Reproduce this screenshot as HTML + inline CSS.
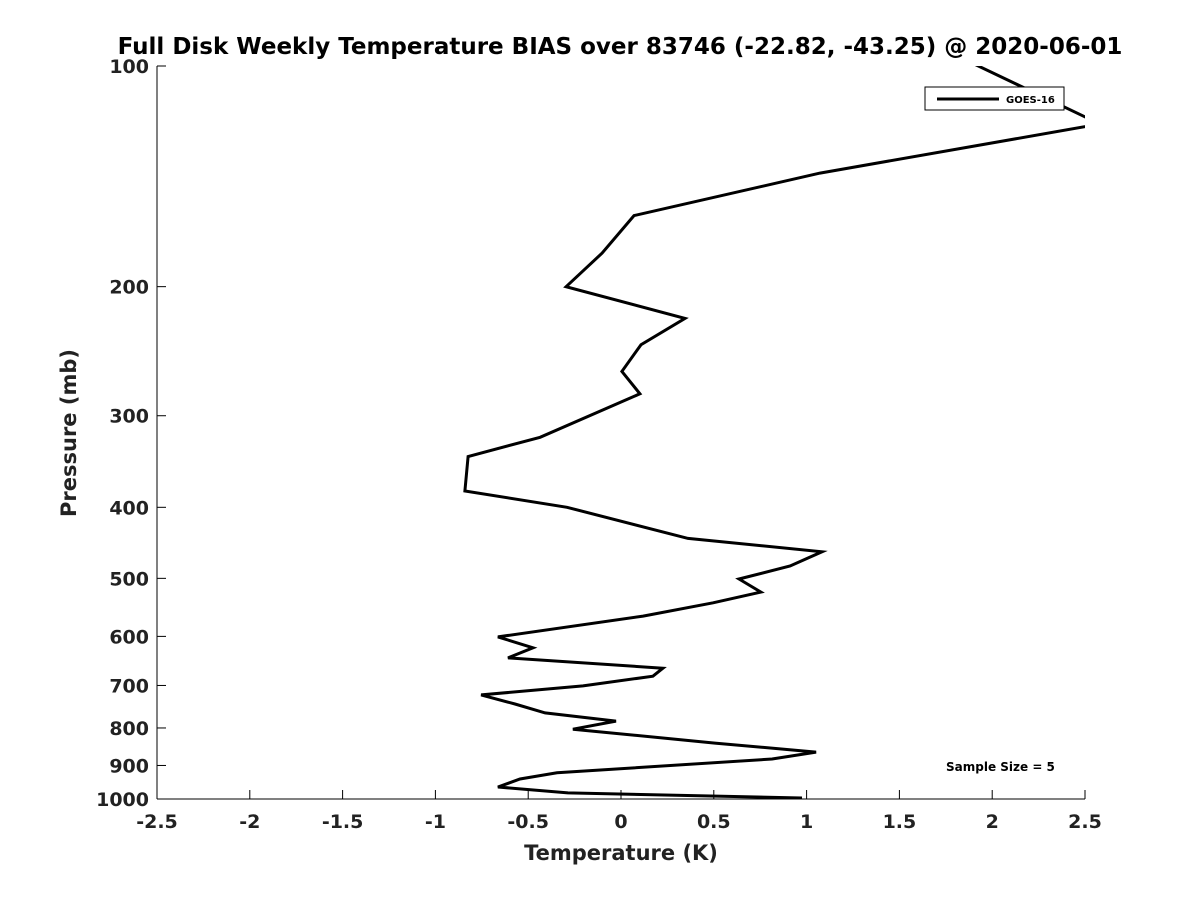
<!DOCTYPE html>
<html><head><meta charset="utf-8"><style>body{margin:0;background:#fff}svg{display:block;font-family:"DejaVu Sans","Liberation Sans",sans-serif}</style></head>
<body>
<svg id="c" width="1200" height="900"></svg>
<script>
const temps=[1.853,2.581,1.072,0.070,-0.102,-0.296,0.345,0.108,0.005,0.102,-0.436,-0.824,-0.841,-0.291,0.361,1.083,0.911,0.636,0.754,0.496,0.119,-0.663,-0.474,-0.609,0.226,0.172,-0.205,-0.754,-0.571,-0.409,-0.027,-0.259,0.506,1.051,0.814,-0.345,-0.544,-0.663,-0.286,0.975];
const pressures=[98,120,140,160,180,200,221,240,261,280,321,341,380,400,441,460,481,501,522,540,563,601,622,642,663,680,701,721,742,763,783,803,839,863,882,921,939,963,981,997];
const xTicks=[-2.5,-2,-1.5,-1,-0.5,0,0.5,1,1.5,2,2.5];
const xTickLabels=["-2.5","-2","-1.5","-1","-0.5","0","0.5","1","1.5","2","2.5"];
const yTicks=[100,200,300,400,500,600,700,800,900,1000];
const NS="http://www.w3.org/2000/svg",svg=document.getElementById('c');
const L=157,R=1085,T=66,B=799;
const xs=v=>L+(v+2.5)/5*(R-L);
const ys=p=>T+(Math.log10(p)-2)*(B-T);
function mk(t,a,txt){const e=document.createElementNS(NS,t);for(const k in a)e.setAttribute(k,a[k]);if(txt!==undefined)e.textContent=txt;svg.appendChild(e);return e;}
const defs=mk('defs',{});const cp=document.createElementNS(NS,'clipPath');cp.setAttribute('id','clip');const cr=document.createElementNS(NS,'rect');cr.setAttribute('x',L);cr.setAttribute('y',T);cr.setAttribute('width',R-L);cr.setAttribute('height',B-T);cp.appendChild(cr);defs.appendChild(cp);
let t=mk('text',{x:620,y:54,'text-anchor':'middle','font-size':23,'font-weight':'bold'},'Full Disk Weekly Temperature BIAS over 83746 (-22.82, -43.25) @ 2020-06-01');

let a=mk('line',{x1:L,y1:T,x2:L,y2:B,stroke:'#000','stroke-width':1});

a=mk('line',{x1:L,y1:B,x2:R,y2:B,stroke:'#000','stroke-width':1});

xTicks.forEach((v,i)=>{const x=xs(v);
 const tk=mk('line',{x1:x,y1:B,x2:x,y2:B-9,stroke:'#000'});
 
 const lb=mk('text',{x:x,y:B+29,'text-anchor':'middle','font-size':19,'font-weight':'bold',fill:'#222'},xTickLabels[i]);
 });
yTicks.forEach(p=>{const y=ys(p);
 const tk=mk('line',{x1:L,y1:y,x2:L+9,y2:y,stroke:'#000'});
 
 const lb=mk('text',{x:L-8,y:y+7,'text-anchor':'end','font-size':19,'font-weight':'bold',fill:'#222'},String(p));
 });
t=mk('text',{x:621,y:860,'text-anchor':'middle','font-size':21,'font-weight':'bold',fill:'#222'},'Temperature (K)');

t=mk('text',{x:0,y:0,transform:'translate(76,433) rotate(-90)','text-anchor':'middle','font-size':21,'font-weight':'bold',fill:'#222'},'Pressure (mb)');

const pts=temps.map((v,i)=>xs(v).toFixed(1)+','+ys(pressures[i]).toFixed(1)).join(' ');
const pl=mk('polyline',{points:pts,fill:'none',stroke:'#000','stroke-width':3,'stroke-linejoin':'miter','clip-path':'url(#clip)'});

const lg=mk('rect',{x:925,y:87,width:139,height:23,fill:'#fff',stroke:'#000','stroke-width':1});

const ll=mk('line',{x1:937,y1:99,x2:999,y2:99,stroke:'#000','stroke-width':3});

t=mk('text',{x:1006,y:103,'font-size':10,'font-weight':'bold'},'GOES-16');

t=mk('text',{x:946,y:771,'font-size':12,'font-weight':'bold'},'Sample Size = 5');

</script>
</body></html>
